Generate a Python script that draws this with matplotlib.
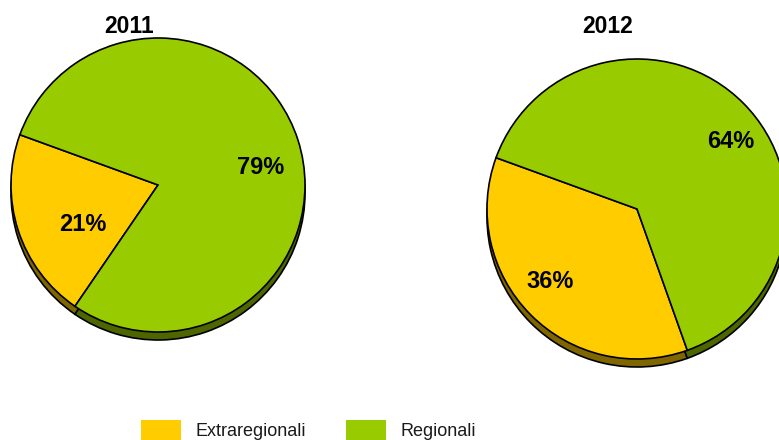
import matplotlib.pyplot as plt
from matplotlib.patches import Patch

plt.rcParams['font.family'] = ['Liberation Sans', 'DejaVu Sans']

# data
years = ['2011', '2012']
categories = ['Extraregionali', 'Regionali']
extraregionali = [21, 36]
regionali = [79, 64]

colors = ['#ffcc00', '#99cc00']
dark_colors = ['#806600', '#4d6600']

# pie placement in pixels (y measured up from bottom)
centers = [(158, 255), (637, 231)]
radii = [147, 150]
pct_dist = [0.65, 0.76]
# small nudges of the percentage labels, pixels
label_shift = [[(16, -10), (12, -12)], [(-6, 8), (13, -13)]]
depth = 8

fig = plt.figure(figsize=(7.79, 4.40), dpi=100)
ax = fig.add_axes([0, 0, 1, 1])

for i, yr in enumerate(years):
    vals = [extraregionali[i], regionali[i]]
    cx, cy = centers[i]
    # 3d side of the pie
    ax.pie(vals, colors=dark_colors, startangle=160, radius=radii[i],
           center=(cx, cy - depth),
           wedgeprops=dict(edgecolor='black', linewidth=1.2, zorder=1))
    wedges, texts, autotexts = ax.pie(
        vals, colors=colors, startangle=160, radius=radii[i], center=(cx, cy),
        autopct='%d%%', pctdistance=pct_dist[i],
        wedgeprops=dict(edgecolor='black', linewidth=1.2, zorder=2),
        textprops=dict(fontsize=17, fontweight='bold', color='black'))
    for t, (dx, dy) in zip(autotexts, label_shift[i]):
        x, y = t.get_position()
        t.set_position((x + dx, y + dy))
        t.set_zorder(3)
    ax.text(cx - 29, 414, yr, ha='center', va='center',
            fontsize=16.5, fontweight='bold')

ax.set_xlim(0, 779)
ax.set_ylim(0, 440)
ax.set_aspect('equal')
ax.axis('off')

handles = [Patch(facecolor=c, edgecolor='none') for c in colors]
fig.legend(handles, categories, loc='upper left',
           bbox_to_anchor=(141 / 779, 1 - 420 / 440), ncol=2,
           frameon=False, fontsize=13, borderpad=0, borderaxespad=0,
           handlelength=2.2, handleheight=1.3, handletextpad=0.83,
           columnspacing=2.2, labelcolor='#1a1a1a')

fig.savefig('out.png', dpi=100)
